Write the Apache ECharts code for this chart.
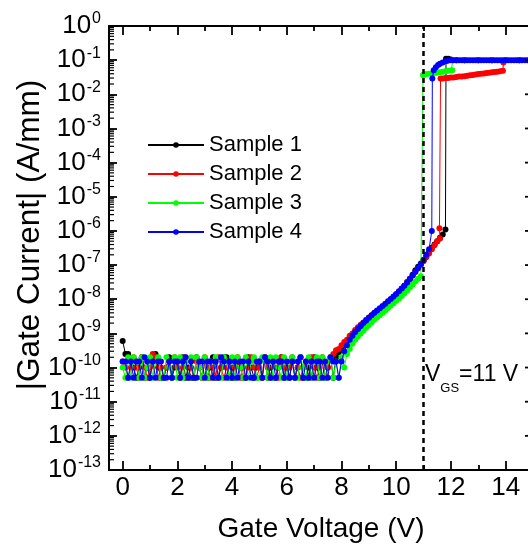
<!DOCTYPE html>
<html>
<head>
<meta charset="utf-8">
<script src="https://cdn.jsdelivr.net/npm/echarts@6/dist/echarts.min.js"></script>
<style>
  html, body { margin: 0; padding: 0; background: #fff; }
  #chart { width: 528px; height: 548px; }
</style>
</head>
<body>
<div id="chart"></div>
<script>
// sweep grid of the measurement (V)
var STEP = 0.1;
// off-state noise floor, units of 1e-11 A/mm, one value per step from 0 V
var NOISE_UNIT = 1e-11;

var names = ['Sample 1', 'Sample 2', 'Sample 3', 'Sample 4'];
var colors = ['#000000', '#ff0000', '#00ff00', '#0000ff'];

var xMajor = [0, 2, 4, 6, 8, 10, 12, 14];
var xMinor = [1, 3, 5, 7, 9, 11, 13];
var yDecades = [-13, -12, -11, -10, -9, -8, -7, -6, -5, -4, -3, -2, -1, 0];
var yMinorMantissa = [2, 3, 4, 5, 6, 7, 8, 9];

var noise1 = [60,25,25,15,10,5,10,20,5,10, 5,20,25,10,5,5,10,20,5,10,
              15,5,20,5,10,5,5,20,10,5, 15,5,10,20,5,5,10,20,20,5,
              10,5,15,10,5,5,20,10,5,10, 15,5,20,5,10,5,5,10,20,5,
              10,5,15,5,10,20,5,5,10,5, 20,10,5,15,5,10,20,5];
var noise2 = [15,10,5,10,20,10,5,20,10,5, 10,25,20,5,10,5,10,15,5,20,
              10,5,10,20,5,10,5,15,10,5, 20,10,5,10,5,20,10,5,10,15,
              5,10,20,5,10,5,10,20,10,5, 10,5,20,10,5,15,10,5,20,10,
              5,10,20,5,10,5,10,15,5,20, 10,5,10,20,5,10,20,25];
var noise3 = [10,5,20,5,20,15,5,20,5,10, 20,5,15,20,5,5,20,10,5,20,
              5,20,5,15,5,20,5,20,10,5, 20,5,15,5,20,5,5,20,15,5,
              20,5,20,10,5,20,5,15,20,5, 5,20,15,5,20,5,20,10,5,20,
              5,15,20,5,5,20,10,5,20,5, 15,20,5,20,5,15,20,5];
var noise4 = [15,15,5,15,5,15,15,5,20,15, 5,15,5,15,15,5,5,15,5,15,
              15,5,15,20,5,15,5,5,15,15, 5,15,15,5,15,5,20,15,5,15,
              5,15,5,15,15,5,15,5,5,15, 15,5,20,15,5,15,5,15,15,5,
              15,5,15,5,15,20,5,15,5,15, 5,15,15,5,15,5,20,15];

// sub-threshold rise (A/mm), continuing the same sweep grid from 7.8 V
var rise1 = [2.0e-10,2.8e-10,3.5e-10,4.5e-10,6.0e-10,7.6e-10,9.3e-10,1.12e-9,1.35e-9,1.6e-9,
             1.9e-9,2.24e-9,2.7e-9,3.2e-9,3.6e-9,4.2e-9,4.9e-9,5.6e-9,6.8e-9,7.9e-9,
             9.5e-9,1.12e-8,1.35e-8,1.6e-8,2.0e-8,2.5e-8,3.2e-8,4.0e-8,5.2e-8,7.1e-8,
             8.9e-8,1.12e-7,1.4e-7,1.8e-7,2.4e-7,3.2e-7,4.0e-7,5.0e-7,6.3e-7,7.9e-7,1.1e-6];
var rise2 = [3.2e-10,3.5e-10,4.5e-10,5.6e-10,6.5e-10,8.5e-10,1.0e-9,1.25e-9,1.5e-9,1.8e-9,
             2.1e-9,2.5e-9,2.9e-9,3.4e-9,3.9e-9,4.5e-9,5.1e-9,5.9e-9,7.0e-9,8.2e-9,
             9.8e-9,1.15e-8,1.38e-8,1.65e-8,2.0e-8,2.5e-8,3.1e-8,3.9e-8,4.9e-8,6.3e-8,
             8.0e-8,1.0e-7,1.3e-7,1.7e-7,2.2e-7,2.9e-7,3.8e-7,5.0e-7,6.0e-7];
var rise3 = [1.5e-10,5e-11,2e-10,1e-10,2.5e-10,3.5e-10,5e-10,6.5e-10,8e-10,1.0e-9,
             1.2e-9,1.45e-9,1.75e-9,2.1e-9,2.5e-9,2.9e-9,3.4e-9,4.0e-9,4.7e-9,5.5e-9,
             6.5e-9,7.6e-9,9.0e-9,1.05e-8,1.25e-8,1.5e-8,1.8e-8,2.2e-8,2.7e-8,3.3e-8,
             4.0e-8,4.7e-8];
var rise4 = [1.5e-10,5e-11,1.5e-10,3e-10,4.5e-10,6.5e-10,8.5e-10,1.1e-9,1.35e-9,1.65e-9,
             2.0e-9,2.4e-9,2.85e-9,3.4e-9,4.0e-9,4.7e-9,5.4e-9,6.3e-9,7.4e-9,8.7e-9,
             1.02e-8,1.2e-8,1.42e-8,1.7e-8,2.05e-8,2.5e-8,3.1e-8,3.9e-8,5.0e-8,6.4e-8,
             8.2e-8,1.05e-7,1.4e-7,2.0e-7,2.9e-7,1.0e-6];

// after breakdown: [V, A/mm]
var on1 = [[11.82,0.11],[11.9,0.11],[12.0,0.105],[12.2,0.1],[12.5,0.1],[13.0,0.1],[13.5,0.1],
           [14.0,0.1],[14.5,0.1],[15.0,0.1]];
var on2 = [[11.58,1.2e-6],[11.62,0.029],[11.7,0.029],[11.8,0.030],[11.9,0.030],[12.0,0.031],
           [12.1,0.031],[12.2,0.032],[12.3,0.033],[12.4,0.033],[12.5,0.034],[12.6,0.035],
           [12.7,0.036],[12.8,0.037],[12.9,0.038],[13.0,0.039],[13.1,0.040],[13.2,0.041],
           [13.3,0.042],[13.4,0.043],[13.5,0.044],[13.6,0.045],[13.7,0.046],[13.8,0.047],
           [13.9,0.049],[13.92,0.085]];
var on3 = [[10.98,0.037],[11.0,0.037],[11.1,0.039],[11.2,0.040],[11.3,0.041],[11.4,0.042],
           [11.5,0.043],[11.6,0.044],[11.7,0.046],[11.8,0.047],[11.9,0.049],[12.0,0.050],
           [12.05,0.051],[12.08,0.1],[12.5,0.1],[13.0,0.1],[13.5,0.1],[14.0,0.1],[14.5,0.1],[15.0,0.1]];
var on4 = [[11.32,0.029],[11.37,0.051],[11.45,0.062],[11.53,0.072],[11.6,0.078],[11.7,0.086],
           [11.83,0.094],[11.9,0.097],[12.0,0.1],[12.1,0.1],[12.2,0.1],[12.3,0.1],[12.4,0.1],
           [12.5,0.1],[12.6,0.1],[12.7,0.1],[12.8,0.1],[12.9,0.1],[13.0,0.1],[13.1,0.1],
           [13.2,0.1],[13.3,0.1],[13.4,0.1],[13.5,0.1],[13.6,0.1],[13.7,0.1],[13.8,0.1],
           [13.9,0.1],[14.0,0.1],[14.1,0.1],[14.2,0.1],[14.3,0.1],[14.4,0.1],[14.5,0.1],
           [14.6,0.1],[14.7,0.1],[14.8,0.1],[14.9,0.1],[15.0,0.1]];

var noises = [noise1, noise2, noise3, noise4];
var rises = [rise1, rise2, rise3, rise4];
var ons = [on1, on2, on3, on4];

var X_MIN = -0.5, X_MAX = 15;
var Y_MIN = 1e-13, Y_MAX = 1;

function buildSeriesData(noise, rise, on) {
  var pts = [];
  noise.forEach(function (v, i) {
    pts.push([+(i * STEP).toFixed(2), v * NOISE_UNIT]);
  });
  rise.forEach(function (v, i) {
    pts.push([+((noise.length + i) * STEP).toFixed(2), v]);
  });
  on.forEach(function (p) { pts.push(p); });
  return pts;
}

// tick marks of the log axis: [x, value, length, also on left side?]
var yTickMarks = [];
yDecades.forEach(function (k) {
  yTickMarks.push([X_MIN, Math.pow(10, k), 8, 0]);   // major, right side only (left drawn by axis)
  if (k < 0) {
    yMinorMantissa.forEach(function (m) {
      yTickMarks.push([X_MIN, m * Math.pow(10, k), 5, 1]);
    });
  }
});

var FONT = 'Liberation Sans, Arial, sans-serif';

var chart = echarts.init(document.getElementById('chart'), null, { renderer: 'canvas' });

var series = names.map(function (name, k) {
  var s = {
    name: name,
    type: 'line',
    xAxisIndex: 0,
    yAxisIndex: 0,
    data: buildSeriesData(noises[k], rises[k], ons[k]),
    symbol: 'circle',
    symbolSize: 6,
    showSymbol: true,
    lineStyle: { width: 1, color: colors[k] },
    itemStyle: { color: colors[k] },
    emphasis: { disabled: true },
    z: 2 + k
  };
  if (k === 0) {
    s.markLine = {
      silent: true,
      symbol: 'none',
      label: { show: false },
      lineStyle: { color: '#000', width: 2.5, type: [5, 4] },
      data: [{ xAxis: 11 }],
      z: 10
    };
  }
  return s;
});

// minor ticks of the log axis on both frame sides, majors on the right side
series.push({
  type: 'custom',
  xAxisIndex: 0,
  yAxisIndex: 0,
  silent: true,
  clip: false,
  z: 20,
  data: yTickMarks,
  renderItem: function (params, api) {
    var v = api.value(1);
    var len = api.value(2);
    var pl = api.coord([X_MIN, v]);
    var pr = api.coord([X_MAX, v]);
    var st = { stroke: '#000', lineWidth: len > 6 ? 1.8 : 1.2 };
    var kids = [
      { type: 'line', shape: { x1: pr[0], y1: pr[1], x2: pr[0] - len, y2: pr[1] }, style: st }
    ];
    if (api.value(3)) {
      kids.push({ type: 'line', shape: { x1: pl[0], y1: pl[1], x2: pl[0] + len, y2: pl[1] }, style: st });
    }
    return { type: 'group', children: kids };
  }
});

function xAxisCfg(pos, ticks, len, withLabel, withLine) {
  return {
    type: 'value',
    position: pos,
    min: X_MIN,
    max: X_MAX,
    axisLine: { show: withLine, onZero: false, lineStyle: { color: '#000', width: 2 } },
    axisTick: { show: true, inside: true, length: len, customValues: ticks,
                lineStyle: { color: '#000', width: 1.8 } },
    axisLabel: withLabel ? { show: true, customValues: ticks, margin: 5, fontSize: 26,
                             fontFamily: FONT, color: '#000' } : { show: false },
    splitLine: { show: false }
  };
}

chart.setOption({
  animation: false,
  backgroundColor: '#fff',
  grid: { left: 109, top: 26, width: 424, height: 444, containLabel: false, outerBoundsMode: 'none' },
  legend: {
    data: names,
    orient: 'vertical',
    left: 147,
    top: 134,
    padding: 0,
    itemWidth: 56,
    itemHeight: 7,
    itemGap: 7,
    textStyle: { fontSize: 22, lineHeight: 22, fontFamily: FONT, color: '#000' },
    selectedMode: false
  },
  xAxis: [
    Object.assign(xAxisCfg('bottom', xMajor, 9, true, true), {
      name: 'Gate Voltage (V)',
      nameLocation: 'middle',
      nameGap: 45,
      nameTextStyle: { fontSize: 28, fontFamily: FONT, color: '#000' }
    }),
    xAxisCfg('bottom', xMinor, 5, false, false),
    xAxisCfg('top', xMajor, 9, false, true),
    xAxisCfg('top', xMinor, 5, false, false)
  ],
  yAxis: {
    type: 'log',
    logBase: 10,
    position: 'left',
    min: Y_MIN,
    max: Y_MAX,
    interval: 1,
    axisLine: { show: true, onZero: false, lineStyle: { color: '#000', width: 2 } },
    axisTick: { show: true, inside: true, length: 8, lineStyle: { color: '#000', width: 1.8 } },
    minorTick: { show: false },
    axisLabel: {
      show: true,
      margin: 8,
      formatter: function (v) {
        return '{b|10}{s|' + Math.round(Math.log10(v)) + '}';
      },
      rich: {
        b: { fontSize: 26, lineHeight: 26, fontFamily: FONT, color: '#000', verticalAlign: 'bottom' },
        s: { fontSize: 16, lineHeight: 16, fontFamily: FONT, color: '#000', verticalAlign: 'bottom',
             padding: [0, 0, 12, 1] }
      }
    },
    splitLine: { show: false },
    minorSplitLine: { show: false }
  },
  graphic: [
    {
      type: 'text',
      x: 30,
      y: 235,
      rotation: Math.PI / 2,
      style: {
        text: '|Gate Current| (A/mm)',
        font: '31.5px ' + FONT,
        fill: '#000',
        align: 'center',
        verticalAlign: 'middle'
      }
    },
    {
      type: 'text',
      x: 425,
      y: 372,
      style: {
        text: '{a|V}{g|GS}{a|=11 V}',
        fill: '#000',
        rich: {
          a: { fontSize: 23, lineHeight: 23, fontFamily: FONT, color: '#000', verticalAlign: 'bottom',
               padding: [0, 0, 9, 0] },
          g: { fontSize: 13, lineHeight: 13, fontFamily: FONT, color: '#000', verticalAlign: 'bottom' }
        }
      }
    }
  ],
  series: series
});
</script>
</body>
</html>
